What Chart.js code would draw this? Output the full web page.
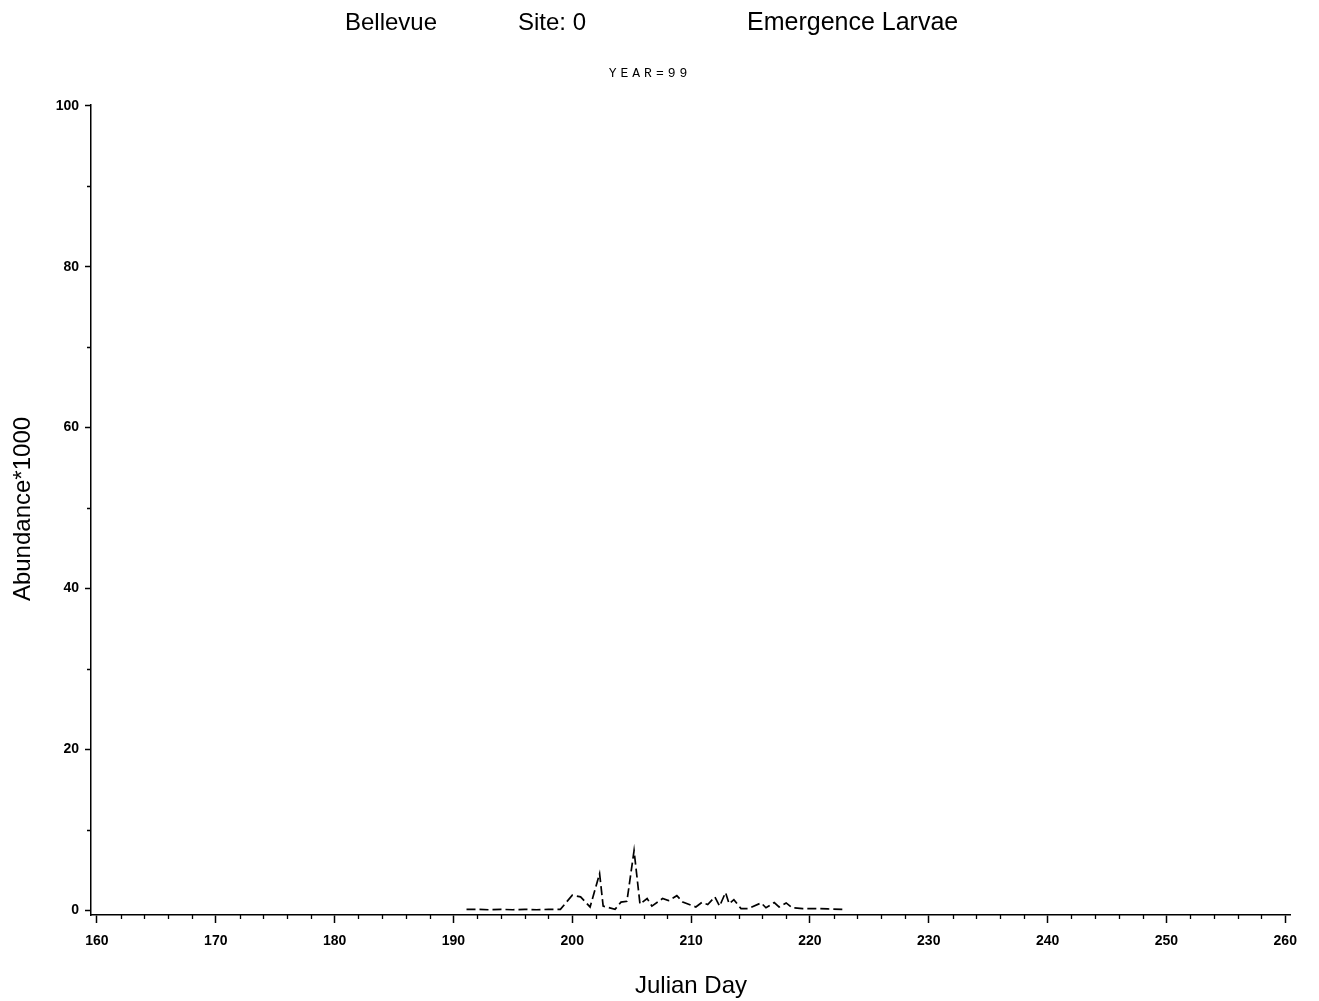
<!DOCTYPE html>
<html>
<head>
<meta charset="utf-8">
<script src="https://cdn.jsdelivr.net/npm/chart.js@4.4.1/dist/chart.umd.min.js"></script>
<style>
    html, body { margin: 0; padding: 0; background: #fff; }
    #wrap { width: 1319px; height: 1001px; }
</style>
</head>
<body>
<div id="wrap"><canvas id="mainChart" width="1319" height="1001"></canvas></div>
<script>
// Datos (día juliano vs abundancia*1000)
const days = [191.1, 192, 193, 194, 195, 196, 197, 198, 199, 200.0, 200.7, 201.5, 202.3, 202.6, 203.6, 204.1, 204.6, 205.2, 205.7, 206.3, 206.7, 207.6, 208.1, 208.8, 209.3, 210.4, 210.9, 211.4, 212.0, 212.4, 212.9, 213.2, 213.6, 214.2, 214.8, 215.9, 216.3, 217.0, 217.4, 218.0, 218.5, 219.4, 220.5, 221.5, 222.9];
const abundance = [0.1, 0.1, 0.05, 0.1, 0.05, 0.1, 0.05, 0.1, 0.1, 1.85, 1.65, 0.4, 4.55, 0.5, 0.1, 1.0, 1.1, 7.4, 0.75, 1.45, 0.5, 1.45, 1.2, 1.8, 1.0, 0.4, 0.95, 0.7, 1.65, 0.5, 2.2, 0.8, 1.3, 0.2, 0.2, 0.9, 0.3, 0.95, 0.4, 0.9, 0.3, 0.2, 0.2, 0.15, 0.1];

const xTicks = [160, 170, 180, 190, 200, 210, 220, 230, 240, 250, 260];
const yTicks = [0, 20, 40, 60, 80, 100];
const xMinor = [162, 164, 166, 168, 172, 174, 176, 178, 182, 184, 186, 188, 192, 194, 196, 198, 202, 204, 206, 208, 212, 214, 216, 218, 222, 224, 226, 228, 232, 234, 236, 238, 242, 244, 246, 248, 252, 254, 256, 258];
const yMinor = [10, 30, 50, 70, 90];

const titleParts = ['Bellevue', 'Site: 0', 'Emergence Larvae'];
const subTitle = 'YEAR=99';
const xTitle = 'Julian Day';
const yTitle = 'Abundance*1000';

// Plugin para textos y marcas menores
const extras = {
    id: 'extras',
    afterDraw(chart) {
        const ctx = chart.ctx;
        const xs = chart.scales.x, ys = chart.scales.y;
        ctx.save();
        ctx.strokeStyle = '#000';
        ctx.lineWidth = 1.3;
        ctx.beginPath();
        xMinor.forEach(v => {
            const px = Math.round(xs.getPixelForValue(v)) + 0.5;
            ctx.moveTo(px, xs.top);
            ctx.lineTo(px, xs.top + 4);
        });
        yMinor.forEach(v => {
            const py = Math.round(ys.getPixelForValue(v)) + 0.5;
            ctx.moveTo(ys.right, py);
            ctx.lineTo(ys.right - 4, py);
        });
        ctx.stroke();

        ctx.fillStyle = '#000';
        ctx.textBaseline = 'alphabetic';
        ctx.textAlign = 'left';
        ctx.font = '24px "Liberation Sans", Arial, sans-serif';
        ctx.fillText(titleParts[0], 345, 30);
        ctx.fillText(titleParts[1], 518, 30);
        ctx.font = '25px "Liberation Sans", Arial, sans-serif';
        ctx.fillText(titleParts[2], 747, 30);

        ctx.font = '13px "Liberation Mono", monospace';
        ctx.letterSpacing = '4px';
        ctx.textAlign = 'center';
        ctx.fillText(subTitle, 650, 77);
        ctx.letterSpacing = '0px';

        ctx.font = '24px "Liberation Sans", Arial, sans-serif';
        ctx.fillText(xTitle, 691, 993);

        ctx.translate(30, 509);
        ctx.rotate(-Math.PI / 2);
        ctx.fillText(yTitle, 0, 0);
        ctx.restore();
    }
};

new Chart(document.getElementById('mainChart'), {
    type: 'line',
    data: {
        datasets: [{
            data: days.map((d, i) => ({ x: d, y: abundance[i] })),
            borderColor: '#000',
            borderWidth: 1.7,
            borderDash: [9, 4],
            pointRadius: 0,
            tension: 0,
            fill: false
        }]
    },
    options: {
        responsive: false,
        animation: false,
        layout: { padding: { top: 105, right: 29, left: 0, bottom: 0 } },
        plugins: { legend: { display: false }, tooltip: { enabled: false }, title: { display: false } },
        scales: {
            x: {
                type: 'linear',
                min: 159.5,
                max: 260.4,
                afterBuildTicks: s => { s.ticks = xTicks.map(v => ({ value: v })); },
                afterFit: s => { s.height = 86; },
                border: { display: true, color: '#000', width: 1.5 },
                grid: { drawOnChartArea: false, drawTicks: true, tickLength: 8, tickColor: '#000', tickWidth: 1.5 },
                ticks: { color: '#000', font: { family: '"Liberation Sans", Arial', size: 14, weight: 'bold' }, padding: 10, maxRotation: 0 }
            },
            y: {
                min: -0.6,
                max: 100.1,
                afterBuildTicks: s => { s.ticks = yTicks.map(v => ({ value: v })); },
                afterFit: s => { s.width = 91; },
                border: { display: true, color: '#000', width: 1.5 },
                grid: { drawOnChartArea: false, drawTicks: true, tickLength: 6, tickColor: '#000', tickWidth: 1.5 },
                ticks: { color: '#000', font: { family: '"Liberation Sans", Arial', size: 14, weight: 'bold' }, padding: 6 }
            }
        }
    },
    plugins: [extras]
});
</script>
</body>
</html>
